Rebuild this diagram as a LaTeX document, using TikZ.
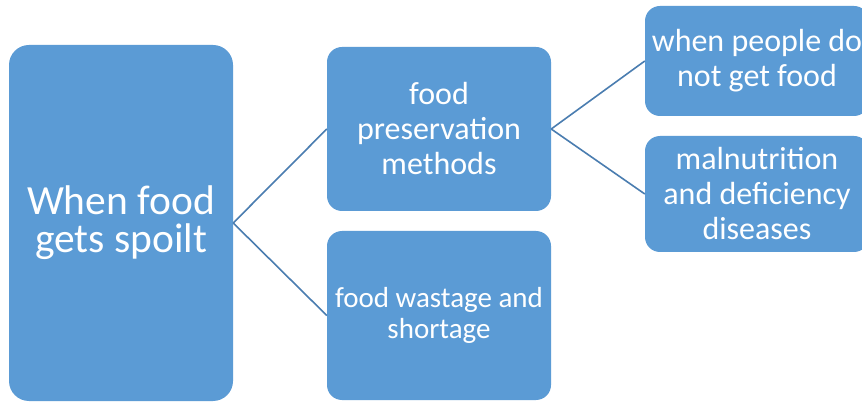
\documentclass[tikz,border=0pt]{standalone}
\usepackage{fontspec}
\setmainfont{Carlito}
\definecolor{boxblue}{HTML}{5B9BD5}
\definecolor{linkblue}{HTML}{4A7DB0}
\begin{document}
\begin{tikzpicture}[x=1pt,y=-1pt,
  box/.style={fill=boxblue, rounded corners=15pt, text=white, align=center,
    inner sep=0pt, minimum width=224pt, font=\fontsize{32}{35}\selectfont},
  link/.style={draw=linkblue, line width=1.6pt}]
\useasboundingbox (0,0) rectangle (862,403);
\fill[white] (0,0) rectangle (862,403);
\clip (0,0) rectangle (862,403);
\node[box, rounded corners=20pt, minimum height=356pt,
  font=\fontsize{41.5}{38}\selectfont] (A) at (121,223) {When food\\gets spoilt};
\node[box, minimum height=164pt] (B) at (439,129) {food\\preservation\\methods};
\node[box, minimum height=169pt, font=\fontsize{29}{31.5}\selectfont] (C) at (439,315.5) {food wastage and\\shortage};
\node[box, minimum height=110pt] (D) at (757,61) {when people do\\not get food};
\node[box, minimum height=116pt] (E) at (757,194) {malnutrition\\and deficiency\\diseases};
\draw[link] (A.east) -- (B.west);
\draw[link] (A.east) -- (C.west);
\draw[link] (B.east) -- (D.west);
\draw[link] (B.east) -- (E.west);
\end{tikzpicture}
\end{document}
